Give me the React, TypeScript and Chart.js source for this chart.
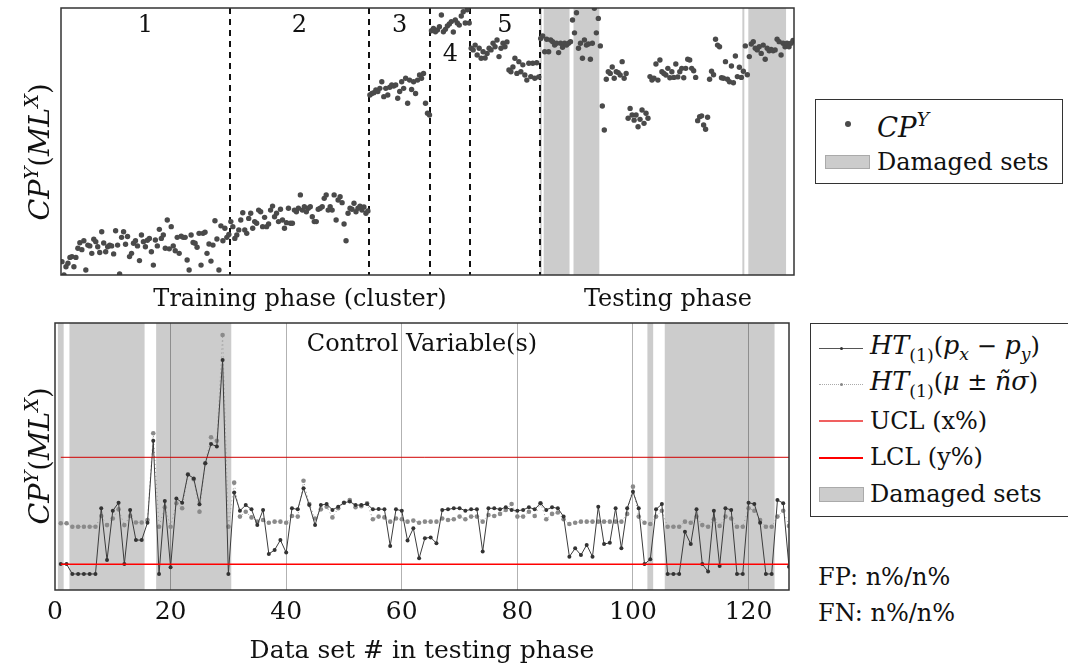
import React, { useEffect, useRef } from "react";
import { Chart, registerables } from "chart.js";
Chart.register(...registerables);

const FONT = "'DejaVu Serif', 'Liberation Serif', serif";

// ---------- Top chart data (CP^Y, arbitrary units 0..100) ----------
const cluster1 = [5.0, 0.0, 3.1, 4.4, 6.6, 6.9, 3.1, 6.6, 10.0, 12.1, 9.5,
  12.8, 1.9, 11.2, 10.9, 8.1, 13.4, 12.5, 10.6, 8.4, 16.2, 12.0,
  8.7, 10.6, 11.2, 10.9, 7.9, 16.6, 11.2, 0.4, 14.1, 16.2, 11.5,
  14.4, 6.9, 8.1, 11.9, 12.8, 10.9, 5.4, 15.0, 12.5, 10.6, 13.0,
  13.7, 8.7, 3.7, 13.1, 10.9, 17.1, 13.7, 15.0, 10.0, 20.6, 9.8,
  18.1, 10.9, 9.1, 14.1, 8.1, 14.5, 14.1, 14.1, 5.6, 1.9, 15.0, 12.2,
  11.9, 10.4, 15.6, 3.7, 15.6, 16.0, 8.1, 11.6, 5.2, 11.2, 20.3, 13.5,
  1.9, 18.4, 12.8, 17.5, 14.1, 15.2];
const cluster2 = [20.0, 18.1, 13.7, 15.0, 16.9, 20.6, 23.3, 16.9, 15.6, 21.2,
  23.1, 17.5, 20.0, 19.4, 24.3, 23.7, 18.1, 21.6, 18.1, 19.1,
  24.3, 25.8, 21.8, 23.1, 20.0, 24.6, 20.6, 17.5, 19.6, 25.0,
  19.4, 19.4, 24.3, 23.7, 25.0, 30.0, 24.3, 25.6, 23.7, 25.0,
  25.6, 21.8, 20.0, 20.0, 24.6, 25.0, 25.6, 28.7, 30.0, 24.3,
  25.6, 24.3, 30.0, 20.6, 28.1, 29.3, 27.1, 19.1, 12.8, 23.1,
  25.0, 24.6, 26.9, 23.7, 25.0, 25.8, 24.3, 25.5, 23.1, 24.0];
const cluster3 = [67.4, 68.0, 68.3, 69.3, 68.7, 69.9, 72.4, 66.8, 69.9, 67.4,
  70.3, 71.2, 70.8, 71.2, 66.2, 68.7, 72.4, 69.9, 73.7, 64.3,
  73.0, 69.5, 72.4, 68.0, 73.0, 74.9, 73.7, 75.5, 64.3, 60.6, 59.9];
const cluster4 = [91.5, 92.3, 91.1, 91.8, 93.0, 97.4, 91.1, 92.0, 93.3, 94.0,
  94.9, 91.0, 95.5, 94.4, 93.6, 97.0, 98.6, 94.4, 99.3, 94.4];
const cluster5 = [84.9, 84.3, 86.1, 82.4, 84.9, 81.2, 83.6, 81.3, 83.0, 84.9,
  84.3, 86.8, 85.5, 88.0, 81.8, 84.9, 86.8, 85.5, 87.3, 76.8,
  76.1, 77.9, 81.2, 75.5, 79.9, 76.1, 78.7, 74.9, 73.0, 79.3,
  74.3, 79.3, 73.7, 79.5, 74.2];
const testingValues = [88.6, 89.5, 83.6, 88.3, 83.6, 88.0, 87.4, 86.1, 86.8, 83.3,
  86.8, 85.3, 86.8, 86.1, 86.8, 87.4, 95.5, 90.7, 98.2, 84.9,
  86.8, 81.2, 88.0, 86.1, 86.5, 80.8, 86.8, 99.9, 90.7, 96.1,
  85.8, 63.3, 54.3, 73.3, 76.1, 75.5, 77.9, 73.7, 76.1, 75.8,
  74.9, 79.9, 73.7, 75.5, 58.7, 62.4, 59.9, 58.0, 59.9, 55.5,
  58.3, 61.8, 56.8, 60.6, 58.7, 74.3, 73.0, 73.7, 79.0, 73.0,
  80.5, 76.1, 75.5, 74.9, 77.4, 73.9, 76.1, 74.0, 79.0, 74.2,
  76.1, 77.4, 73.9, 77.4, 80.8, 80.5, 77.4, 76.5, 74.0, 57.8,
  59.3, 59.6, 56.2, 54.6, 59.1, 73.3, 76.3, 75.0, 88.3, 86.1,
  85.5, 73.9, 73.7, 79.9, 73.3, 72.4, 78.3, 72.0, 82.0, 74.3,
  77.8, 74.0, 76.3, 85.8, 75.0, 81.8, 86.5, 87.4, 84.9, 84.3,
  85.5, 83.0, 86.1, 80.8, 84.9, 84.0, 84.5, 84.0, 84.3, 88.3,
  87.4, 82.4, 86.8, 85.5, 86.8, 85.5, 86.8, 87.8];
const clusterNames = ["1", "2", "3", "4", "5"];

// damaged data sets (testing phase data set numbers)
const damagedSets: [number, number][] = [[0.5, 1.5], [2.5, 15.5], [17.5, 30.5], [102.5, 103.5], [105.5, 124.5]];

// ---------- Bottom chart data (testing data sets 1..127) ----------
const htDifference = [9.7, 9.7, 6.0, 6.0, 6.0, 6.0, 6.0, 30.6, 11.2, 29.7,
  32.7, 9.7, 30.0, 18.7, 18.7, 25.2, 55.9, 6.0, 33.3, 8.5,
  34.3, 32.7, 43.3, 41.8, 32.1, 47.5, 54.7, 53.7, 86.1, 6.0,
  36.5, 29.7, 31.8, 30.2, 24.3, 30.0, 13.5, 15.0, 18.7, 14.0,
  30.6, 30.2, 38.1, 31.8, 24.3, 31.8, 32.2, 30.0, 31.2, 32.7,
  33.1, 31.8, 31.8, 32.2, 30.2, 30.3, 30.2, 16.5, 30.2, 29.7,
  18.5, 23.1, 11.9, 19.4, 19.7, 17.5, 30.0, 30.2, 30.6, 30.6,
  29.7, 30.2, 30.2, 14.4, 30.6, 30.6, 30.2, 31.0, 30.0, 29.7,
  30.0, 31.0, 30.2, 32.5, 30.0, 31.0, 30.6, 27.5, 12.5, 15.6,
  13.1, 16.9, 12.5, 31.2, 17.2, 17.7, 30.6, 15.6, 30.6, 36.8,
  30.6, 9.7, 11.5, 30.2, 32.2, 6.0, 6.0, 6.0, 21.8, 17.2,
  30.2, 9.7, 6.9, 29.7, 9.0, 30.6, 30.0, 6.0, 6.0, 32.7,
  32.2, 25.2, 6.0, 6.0, 33.7, 32.5, 8.7];
const htMeanSigma = [25.0, 25.0, 23.7, 23.7, 23.7, 23.7, 23.7, 27.7, 24.3, 26.8,
  30.2, 24.3, 27.7, 25.3, 25.3, 26.2, 58.7, 23.7, 31.0, 23.7,
  32.5, 30.6, 43.3, 41.5, 29.3, 47.5, 57.2, 55.9, 95.5, 23.7,
  40.2, 27.5, 29.3, 27.2, 25.6, 26.2, 25.2, 25.6, 25.6, 25.2,
  27.7, 27.5, 40.9, 32.2, 26.8, 30.2, 31.2, 27.2, 30.6, 32.7,
  33.7, 31.0, 31.4, 32.5, 26.5, 27.5, 27.2, 25.6, 26.8, 26.5,
  25.6, 26.0, 25.2, 25.6, 25.6, 25.6, 26.8, 26.2, 26.5, 27.5,
  26.5, 27.5, 27.5, 25.6, 28.1, 27.7, 28.5, 30.0, 32.2, 27.5,
  27.5, 29.3, 27.7, 32.5, 26.5, 28.5, 29.0, 26.5, 24.7, 25.2,
  25.6, 25.6, 25.6, 25.6, 25.6, 25.6, 25.6, 25.6, 28.5, 38.7,
  27.5, 25.2, 24.7, 27.5, 29.7, 23.7, 23.7, 23.7, 25.6, 25.2,
  27.5, 24.3, 23.7, 26.5, 24.0, 27.5, 26.8, 23.7, 23.7, 30.6,
  29.7, 26.2, 23.7, 23.7, 27.5, 29.7, 24.0];
const UCL = 49.7;
const LCL = 9.6;
const xTickStep = 20;
const xMax = 127;

const clusters = [cluster1, cluster2, cluster3, cluster4, cluster5];
const trainingCount = clusters.reduce((s, c) => s + c.length, 0);
const topValues = [...clusters.flat(), ...testingValues];

function frame(chart: any) {
  const { ctx, chartArea: { left, right, top, bottom } } = chart;
  ctx.save();
  ctx.strokeStyle = "#333";
  ctx.lineWidth = 1.5;
  ctx.strokeRect(left, top, right - left, bottom - top);
  ctx.restore();
}

const topPlugin = {
  id: "topDecor",
  beforeDatasetsDraw(chart: any) {
    const { ctx, chartArea: { top, bottom }, scales: { x } } = chart;
    ctx.save();
    ctx.fillStyle = "#cccccc";
    damagedSets.forEach(([a, b]) => {
      const x0 = x.getPixelForValue(trainingCount - 1 + a);
      const x1 = x.getPixelForValue(trainingCount - 1 + b);
      ctx.fillRect(x0, top, x1 - x0, bottom - top);
    });
    ctx.setLineDash([6, 5]);
    ctx.lineWidth = 2;
    ctx.strokeStyle = "#111";
    let start = 0;
    clusters.forEach((c, ci) => {
      const end = start + c.length;
      const px = Math.round(x.getPixelForValue(end - 0.5));
      ctx.beginPath();
      ctx.moveTo(px, top);
      ctx.lineTo(px, bottom);
      ctx.stroke();
      const cx = x.getPixelForValue((start + end - 1) / 2);
      ctx.fillStyle = "#111";
      ctx.font = `24px ${FONT}`;
      ctx.textAlign = "center";
      ctx.textBaseline = "middle";
      ctx.fillText(clusterNames[ci], cx, top + (ci === 3 ? 47 : 18));
      ctx.fillStyle = "#cccccc";
      start = end;
    });
    ctx.restore();
  },
  afterDraw: frame,
};

const bottomPlugin = {
  id: "bottomDecor",
  beforeDraw(chart: any) {
    const { ctx, chartArea: { top, bottom }, scales: { x } } = chart;
    ctx.save();
    ctx.fillStyle = "#cccccc";
    damagedSets.forEach(([a, b]) => {
      const x0 = x.getPixelForValue(a);
      const x1 = x.getPixelForValue(b);
      ctx.fillRect(x0, top, x1 - x0, bottom - top);
    });
    ctx.restore();
  },
  afterDraw(chart: any) {
    const { ctx, chartArea: { left, right, top } } = chart;
    ctx.save();
    ctx.fillStyle = "#111";
    ctx.font = `24px ${FONT}`;
    ctx.textAlign = "center";
    ctx.textBaseline = "middle";
    ctx.fillText("Control Variable(s)", (left + right) / 2, top + 22);
    ctx.restore();
    frame(chart);
  },
};

function TopChart() {
  const ref = useRef<HTMLCanvasElement>(null);
  useEffect(() => {
    const chart = new Chart(ref.current!, {
      type: "scatter",
      data: {
        datasets: [{
          data: topValues.map((v, k) => ({ x: k, y: v })),
          pointRadius: 2.7,
          pointBackgroundColor: "#4a4a4a",
          pointBorderWidth: 0,
          showLine: false,
        }],
      },
      options: {
        animation: false,
        responsive: false,
        devicePixelRatio: 1,
        layout: { padding: { left: 61, right: 16, top: 8, bottom: 10 } },
        plugins: { legend: { display: false }, tooltip: { enabled: false } },
        scales: {
          x: { type: "linear", display: false, min: -0.5, max: topValues.length - 0.5 },
          y: { display: false, min: 0, max: 100 },
        },
      },
      plugins: [topPlugin],
    });
    return () => chart.destroy();
  }, []);
  return <canvas ref={ref} width={810} height={285} style={{ position: "absolute", left: 0, top: 0 }} />;
}

function BottomChart() {
  const ref = useRef<HTMLCanvasElement>(null);
  useEffect(() => {
    const chart = new Chart(ref.current!, {
      type: "line",
      data: {
        datasets: [
          {
            data: [{ x: 1, y: UCL }, { x: xMax, y: UCL }],
            borderColor: "#d00000", borderWidth: 1, pointRadius: 0,
          },
          {
            data: [{ x: 1, y: LCL }, { x: xMax, y: LCL }],
            borderColor: "#ff0000", borderWidth: 1.5, pointRadius: 0,
          },
          {
            data: htDifference.map((v, k) => ({ x: k + 1, y: v })),
            borderColor: "#3c3c3c", borderWidth: 1,
            pointRadius: 2, pointBackgroundColor: "#333", pointBorderWidth: 0,
          },
          {
            data: htMeanSigma.map((v, k) => ({ x: k + 1, y: v })),
            borderColor: "#9a9a9a", borderWidth: 1, borderDash: [1, 3],
            pointRadius: 2.3, pointBackgroundColor: "#8a8a8a", pointBorderWidth: 0,
          },
        ],
      },
      options: {
        animation: false,
        responsive: false,
        devicePixelRatio: 1,
        layout: { padding: { left: 55, right: 11, top: 23, bottom: 0 } },
        plugins: { legend: { display: false }, tooltip: { enabled: false } },
        scales: {
          x: {
            type: "linear", min: 0, max: xMax,
            afterFit: (s: any) => { s.height = 78; },
            ticks: {
              stepSize: xTickStep, includeBounds: false, padding: 7,
              color: "#111", font: { family: FONT, size: 25 },
              maxRotation: 0,
            },
            grid: {
              drawTicks: false,
              color: (c: any) => (c.tick && c.tick.value === 0 ? "rgba(0,0,0,0)" : "rgba(0,0,0,0.3)"),
              lineWidth: 1,
            },
            border: { display: false },
            title: {
              display: true, text: "Data set # in testing phase", color: "#111",
              font: { family: FONT, size: 25 }, padding: { top: 0, bottom: 2 },
            },
          },
          y: { display: false, min: 0, max: 100 },
        },
      },
      plugins: [bottomPlugin],
    });
    return () => chart.destroy();
  }, []);
  return <canvas ref={ref} width={800} height={368} style={{ position: "absolute", left: 0, top: 300 }} />;
}

const abs = (left: number, cy: number, extra: React.CSSProperties = {}): React.CSSProperties => ({
  position: "absolute", left, top: cy, transform: "translateY(-50%)", whiteSpace: "nowrap", lineHeight: "28px", ...extra,
});
const it: React.CSSProperties = { fontStyle: "italic", fontSize: "1.06em" };
const sub: React.CSSProperties = { fontSize: "0.72em", verticalAlign: "-0.35em", fontStyle: "normal" };
const subI: React.CSSProperties = { fontSize: "0.72em", verticalAlign: "-0.3em", fontStyle: "italic" };
const sup: React.CSSProperties = { fontSize: "0.72em", verticalAlign: "0.55em", fontStyle: "italic" };

function YTitle({ cy }: { cy: number }) {
  return (
    <div style={{ position: "absolute", left: 36, top: cy, transform: "translate(-50%,-50%) rotate(-90deg)", whiteSpace: "nowrap", fontSize: 27, lineHeight: "32px" }}>
      <span style={it}>CP</span><span style={sup}>Y</span>(<span style={it}>ML</span><span style={sup}>X</span>)
    </div>
  );
}

export default function App() {
  return (
    <div style={{ position: "absolute", left: 0, top: 0, width: 1068, height: 668, overflow: "hidden", background: "#fff", fontFamily: FONT, color: "#111", fontSize: 24 }}>
      <TopChart />
      <BottomChart />
      <YTitle cy={152} />
      <YTitle cy={456} />
      <div style={{ ...abs(300, 298), transform: "translate(-50%,-50%)" }}>Training phase (cluster)</div>
      <div style={{ ...abs(668, 298), transform: "translate(-50%,-50%)" }}>Testing phase</div>

      {/* top legend */}
      <div style={{ position: "absolute", left: 815, top: 99, width: 248, height: 85, border: "1.5px solid #333", boxSizing: "border-box" }} />
      <div style={{ position: "absolute", left: 845, top: 121, width: 6, height: 6, borderRadius: 3, background: "#4a4a4a" }} />
      <div style={abs(877, 124, { fontSize: 26 })}><span style={it}>CP</span><span style={sup}>Y</span></div>
      <div style={{ position: "absolute", left: 825, top: 155, width: 45, height: 14, background: "#cccccc", border: "1px solid #aaa", boxSizing: "border-box" }} />
      <div style={abs(877, 162)}>Damaged sets</div>

      {/* bottom legend */}
      <div style={{ position: "absolute", left: 810, top: 323, width: 280, height: 194, border: "1.5px solid #333", boxSizing: "border-box" }} />
      <div style={{ position: "absolute", left: 819, top: 348, width: 44, height: 1, background: "#555" }} />
      <div style={{ position: "absolute", left: 840, top: 347, width: 3, height: 3, borderRadius: 2, background: "#333" }} />
      <div style={abs(870, 350)}>
        <span style={it}>HT</span><span style={sub}>(1)</span>(<span style={it}>p</span><span style={subI}>x</span> − <span style={it}>p</span><span style={subI}>y</span>)
      </div>
      <div style={{ position: "absolute", left: 819, top: 384, width: 44, height: 0, borderTop: "1px dotted #aaa" }} />
      <div style={{ position: "absolute", left: 840, top: 383, width: 3, height: 3, borderRadius: 2, background: "#888" }} />
      <div style={abs(870, 386)}>
        <span style={it}>HT</span><span style={sub}>(1)</span>(<span style={it}>μ</span> ± <span style={it}>ñσ</span>)
      </div>
      <div style={{ position: "absolute", left: 819, top: 420, width: 44, height: 2, background: "#f06060" }} />
      <div style={abs(870, 421)}>UCL (x%)</div>
      <div style={{ position: "absolute", left: 819, top: 457, width: 44, height: 2, background: "#ff0000" }} />
      <div style={abs(870, 457)}>LCL (y%)</div>
      <div style={{ position: "absolute", left: 819, top: 487, width: 45, height: 15, background: "#cccccc", border: "1px solid #aaa", boxSizing: "border-box" }} />
      <div style={abs(870, 494)}>Damaged sets</div>

      <div style={abs(818, 577)}>FP: n%/n%</div>
      <div style={abs(818, 613)}>FN: n%/n%</div>
    </div>
  );
}
